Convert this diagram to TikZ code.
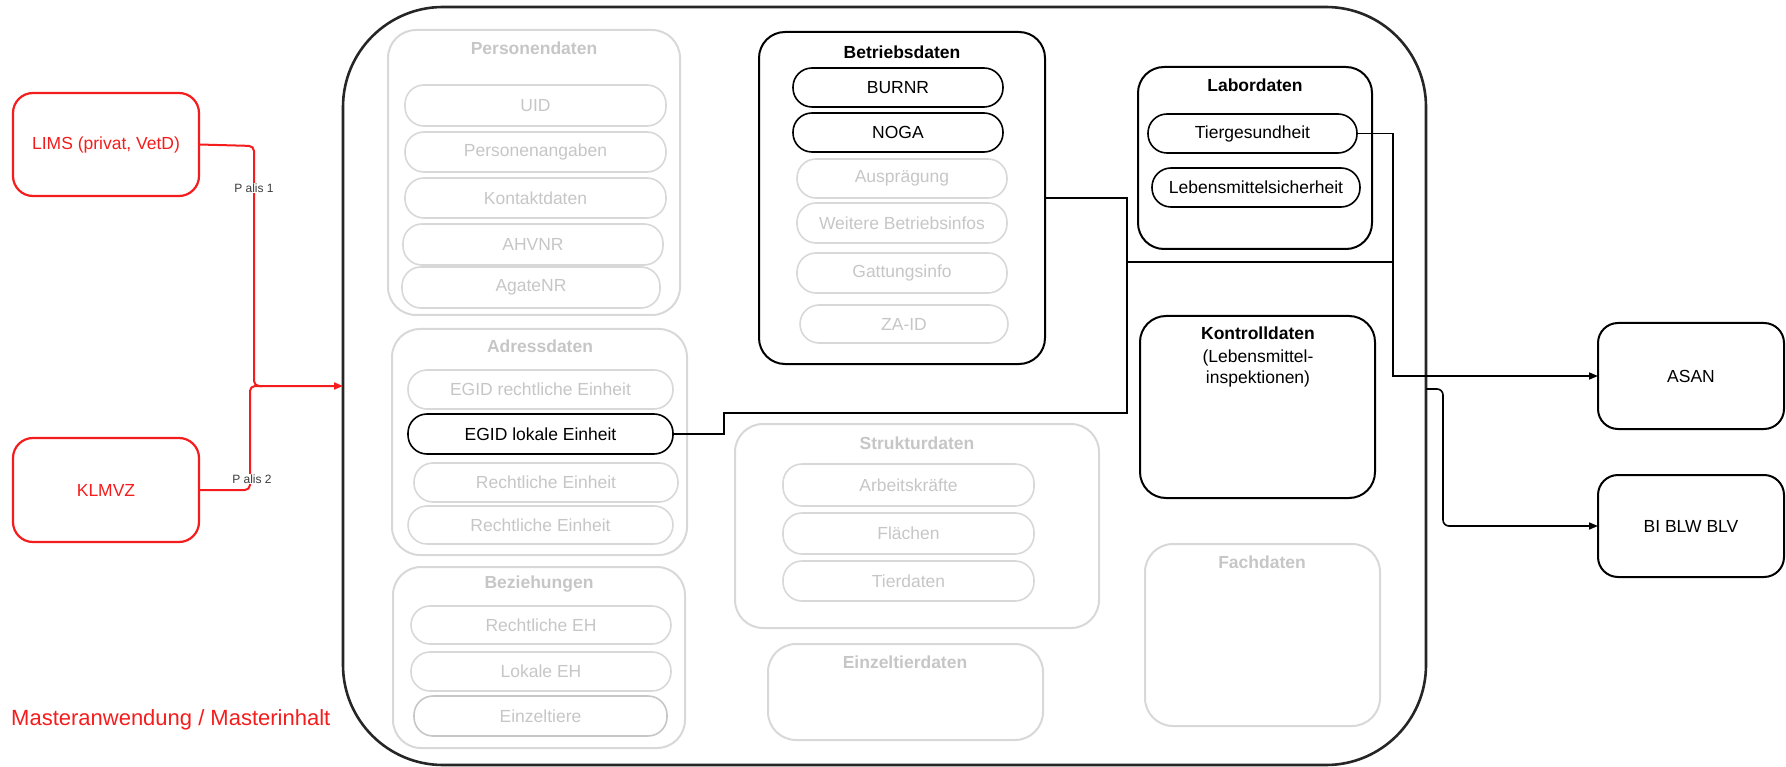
\documentclass[tikz,border=0pt]{standalone}
\usepackage{fontspec}
\setmainfont{Liberation Sans}
\usetikzlibrary{arrows.meta}

\definecolor{lgray}{RGB}{216,216,216}
\definecolor{tgray}{RGB}{198,198,198}
\definecolor{mred}{RGB}{244,28,28}
\definecolor{lbl}{RGB}{60,60,60}

\tikzset{
  base/.style={inner sep=0pt, outer sep=0pt, align=center,
    font=\fontsize{17.5}{21}\selectfont},
  grp/.style={base, draw=lgray, line width=2pt, rounded corners=28pt},
  grpon/.style={base, draw=black, line width=2pt, rounded corners=26pt},
  pill/.style={base, draw=lgray, line width=1.6pt, rounded corners=19pt, text=tgray},
  pilldk/.style={pill, draw=tgray},
  pillon/.style={base, draw=black, line width=1.6pt, rounded corners=19pt, text=black},
  gttl/.style={inner sep=0pt, text=tgray, font=\bfseries\fontsize{17.5}{21}\selectfont},
  bttl/.style={inner sep=0pt, text=black, font=\bfseries\fontsize{17.5}{21}\selectfont},
  extbox/.style={base, draw=black, line width=2pt, rounded corners=20pt},
  srcbox/.style={base, draw=mred, line width=2.2pt, rounded corners=20pt, text=mred},
  master/.style={base, draw=black!85, line width=2.6pt, rounded corners=100pt},
  link/.style={draw=black, line width=1.6pt},
  redlink/.style={draw=mred, line width=2pt, rounded corners=5pt},
  tip/.style={-{Triangle[length=9pt,width=7pt]}},
  tag/.style={inner sep=1pt, fill=white, text=lbl, font=\fontsize{12}{14}\selectfont},
}

% box from its corners (x1,y1)-(x2,y2) in pixel units
\newcommand\mybox[7]{%
  \node[#2, minimum width={(#5-#3)*1pt}, minimum height={(#6-#4)*1pt}]
    (#1) at ({(#3+#5)/2},{(#4+#6)/2}) {#7};}

\begin{document}
\begin{tikzpicture}[x=1pt, y=-1pt]
\useasboundingbox (0,0) rectangle (1786,767);

% main application frame
\mybox{master}{master}{343}{7}{1426}{765}{}

% Personendaten
\mybox{pers}{grp}{388}{30}{680}{315}{}
\node[gttl] (perst) at (534,48) {Personendaten};
\mybox{uid}{pill}{405}{85}{666}{126}{UID}
\mybox{pang}{pill}{405}{132}{666}{172}{Personenangaben}
\mybox{kont}{pill}{405}{178}{666}{218}{Kontaktdaten}
\mybox{ahv}{pill}{403}{224}{663}{265}{AHVNR}
\mybox{agate}{pill}{402}{267}{660}{308}{AgateNR}

% Adressdaten
\mybox{adr}{grp}{392}{329}{687}{555}{}
\node[gttl] (adrt) at (540,346) {Adressdaten};
\mybox{egidr}{pill}{408}{370}{673}{409}{EGID rechtliche Einheit}
\mybox{egidl}{pillon}{408}{414}{673}{454}{EGID lokale Einheit}
\mybox{rea}{pill}{414}{463}{678}{502}{Rechtliche Einheit}
\mybox{reb}{pill}{408}{506}{673}{544}{Rechtliche Einheit}

% Beziehungen
\mybox{bez}{grp}{393}{567}{685}{748}{}
\node[gttl] (bezt) at (539,584) {Beziehungen};
\mybox{reh}{pill}{411}{606}{671}{644}{Rechtliche EH}
\mybox{leh}{pill}{411}{652}{671}{691}{Lokale EH}
\mybox{ezt}{pilldk}{414}{696}{667}{736}{Einzeltiere}

% Betriebsdaten
\mybox{betr}{grpon}{759}{32}{1045}{364}{}
\node[bttl] (betrt) at (902,52) {Betriebsdaten};
\mybox{burnr}{pillon}{793}{68}{1003}{107}{BURNR}
\mybox{noga}{pillon}{793}{113}{1003}{152}{NOGA}
\mybox{ausp}{pill}{797}{159}{1007}{198}{Ausprägung}
\mybox{weit}{pill}{797}{203}{1007}{243}{Weitere Betriebsinfos}
\mybox{gatt}{pill}{797}{253}{1007}{293}{Gattungsinfo}
\mybox{zaid}{pill}{800}{305}{1008}{343}{ZA-ID}

% Strukturdaten
\mybox{strk}{grp}{735}{424}{1099}{628}{}
\node[gttl] (strkt) at (917,443) {Strukturdaten};
\mybox{arb}{pill}{783}{464}{1034}{506}{Arbeitskräfte}
\mybox{flae}{pill}{783}{513}{1034}{554}{Flächen}
\mybox{tierd}{pill}{783}{561}{1034}{601}{Tierdaten}

% Einzeltierdaten
\mybox{ezd}{grp}{768}{644}{1043}{740}{}
\node[gttl] (ezdt) at (905,662) {Einzeltierdaten};

% Labordaten
\mybox{labor}{grpon}{1138}{67}{1372}{249}{}
\node[bttl] (labort) at (1255,85) {Labordaten};
\mybox{tierg}{pillon}{1148}{114}{1357}{153}{Tiergesundheit}
\mybox{lms}{pillon}{1152}{168}{1360}{207}{Lebensmittelsicherheit}

% Kontrolldaten
\mybox{kontr}{grpon}{1140}{316}{1375}{498}{}
\node[bttl] (kontrt) at (1258,333) {Kontrolldaten};
\node[base, text=black] (kontrs) at (1258,368) {(Lebensmittel-\\inspektionen)};

% Fachdaten
\mybox{fach}{grp}{1145}{544}{1380}{726}{}
\node[gttl] (facht) at (1262,562) {Fachdaten};

% target systems
\mybox{asan}{extbox}{1598}{323}{1784}{429}{ASAN}
\mybox{bi}{extbox}{1598}{475}{1784}{577}{BI BLW BLV}

% source systems
\mybox{lims}{srcbox}{13}{93}{199}{196}{LIMS (privat, VetD)}
\mybox{klmvz}{srcbox}{13}{438}{199}{542}{KLMVZ}

\node[anchor=west, inner sep=0pt, text=mred, font=\fontsize{22}{26}\selectfont]
  (legend) at (11,720) {Masteranwendung / Masterinhalt};

% feeds into the master application
\draw[redlink, tip] (lims.east) -- (254,146) -- (254,386) -- (master.west);
\draw[redlink] (klmvz.east) -- (250,490) -- (250,386) -- (262,386);
\node[tag] (palis1) at (254,188) {P alis 1};
\node[tag] (palis2) at (252,479) {P alis 2};

% deliveries to ASAN
\draw[link, tip] (egidl.east) -- (724,434) -- (724,413) -- (1127,413)
  -- (1127,262) -- (1393,262) -- (1393,376) -- (asan.west);
\draw[link] (betr.east) -- (1127,198) -- (1127,262);
\draw[link] (tierg.east) -- (1393,133.5) -- (1393,376);

% delivery to BI
\draw[link, tip, rounded corners=6pt] ([yshift=-3pt]master.east) -- (1443,389)
  -- (1443,526) -- (bi.west);

\end{tikzpicture}
\end{document}
